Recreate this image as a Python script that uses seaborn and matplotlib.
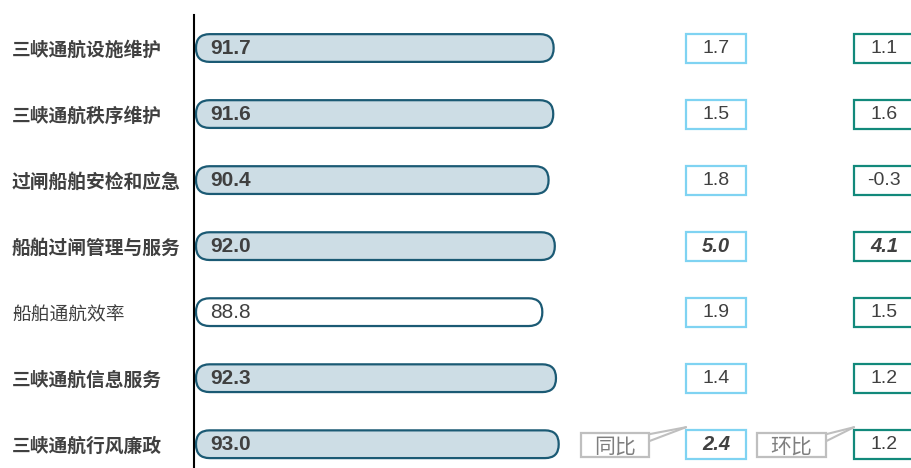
import matplotlib
matplotlib.use("Agg")
import matplotlib.pyplot as plt
import matplotlib.transforms as mtransforms
from matplotlib.patches import FancyBboxPatch, Rectangle
import pandas as pd
import seaborn as sns

# data
items = ["三峡通航设施维护", "三峡通航秩序维护", "过闸船舶安检和应急", "船舶过闸管理与服务",
         "船舶通航效率", "三峡通航信息服务", "三峡通航行风廉政"]
scores = [91.7, 91.6, 90.4, 92.0, 88.8, 92.3, 93.0]
yoy = [1.7, 1.5, 1.8, 5.0, 1.9, 1.4, 2.4]      # 同比
mom = [1.1, 1.6, -0.3, 4.1, 1.5, 1.2, 1.2]     # 环比
bold_items = [True, True, True, True, False, True, True]
yoy_emph = [False, False, False, True, False, False, True]
mom_emph = [False, False, False, True, False, False, False]

sns.set_theme(style="white")
plt.rcParams["font.family"] = ["Noto Sans CJK SC", "DejaVu Sans"]

W, H = 912, 468
fig = plt.figure(figsize=(W / 100, H / 100), dpi=100)
ax = fig.add_axes([194 / W, 0, (W - 194) / W, (H - 15) / H])

df = pd.DataFrame({"item": items, "score": scores})
fills = {it: ("#cddde5" if b else "white") for it, b in zip(items, bold_items)}
sns.barplot(data=df, x="score", y="item", hue="item", palette=fills, saturation=1,
            width=0.42, legend=False, ax=ax, orient="h")

px_x = 3.9   # pixels per x unit
px_y = 66    # pixels per row
ax.set_xlim(-2 / px_x, -2 / px_x + (W - 194) / px_x)
ax.set_ylim(6.36, -0.5)

# replace bars with rounded pills
for p in list(ax.patches):
    x, y = p.get_x(), p.get_y()
    w, h = p.get_width(), p.get_height()
    fc = p.get_facecolor()
    p.set_visible(False)
    r = (h * px_y / 2) / px_x
    pill = FancyBboxPatch((x, y), w, h,
                          boxstyle=f"round,pad=0,rounding_size={r * 0.98}",
                          mutation_aspect=px_x / px_y,
                          facecolor=fc, edgecolor="#1b5a74", linewidth=1.6)
    ax.add_patch(pill)

txt_col = "#404040"
for i, (v, b) in enumerate(zip(scores, bold_items)):
    ax.annotate(f"{v:.1f}", (0, i), xytext=(14, 0), textcoords="offset pixels",
                va="center", ha="left", fontsize=15, color=txt_col,
                fontweight="bold" if b else "normal",
                family=["Liberation Sans", "DejaVu Sans"])

# axes styling
for s in ["top", "right", "bottom"]:
    ax.spines[s].set_visible(False)
ax.spines["left"].set_color("black")
ax.spines["left"].set_linewidth(1.5)
ax.set_xticks([])
ax.set_xlabel("")
ax.set_ylabel("")
ax.tick_params(axis="y", length=0, pad=(194 - 12) * 0.72)
for lab, b in zip(ax.get_yticklabels(), bold_items):
    lab.set_horizontalalignment("left")
    lab.set_fontsize(13.5)
    lab.set_color(txt_col)
    lab.set_fontweight("bold" if b else "normal")

# 同比 / 环比 boxes
tr = mtransforms.blended_transform_factory(fig.transFigure, ax.transData)
bw = 60 / W
bh = 29 / px_y
for col_x, vals, emph, ec in [(686, yoy, yoy_emph, "#7fd3f2"), (854, mom, mom_emph, "#12897b")]:
    for i, (v, e) in enumerate(zip(vals, emph)):
        ax.add_patch(Rectangle((col_x / W, i - bh / 2), bw, bh, transform=tr,
                               facecolor="white", edgecolor=ec, linewidth=1.6,
                               clip_on=False))
        ax.text((col_x + 30) / W, i + 0.01, f"{v:.1f}", transform=tr,
                ha="center", va="center", fontsize=14.5 if e else 14, color=txt_col,
                fontweight="bold" if e else "normal",
                fontstyle="italic" if e else "normal",
                family=["Liberation Sans", "DejaVu Sans"], clip_on=False)

# legend callouts
gray = "#bfbfbf"
for x0, x1, tip, label in [(581, 649, 686, "同比"), (757, 826, 854, "环比")]:
    yc = (445 - 48) / px_y
    hh = 24 / px_y
    ax.add_patch(Rectangle((x0 / W, yc - hh / 2), (x1 - x0) / W, hh, transform=tr,
                           facecolor="white", edgecolor=gray, linewidth=1.6, clip_on=False))
    ax.text((x0 + x1) / 2 / W, yc + 0.02, label, transform=tr, ha="center", va="center",
            fontsize=15, color="#7f7f7f", clip_on=False)
    ytip = (427 - 48) / px_y
    for yy in [434, 441]:
        ax.plot([x1 / W, tip / W], [(yy - 48) / px_y, ytip], transform=tr,
                color=gray, linewidth=1.5, clip_on=False)

fig.savefig("out.png", dpi=100)
